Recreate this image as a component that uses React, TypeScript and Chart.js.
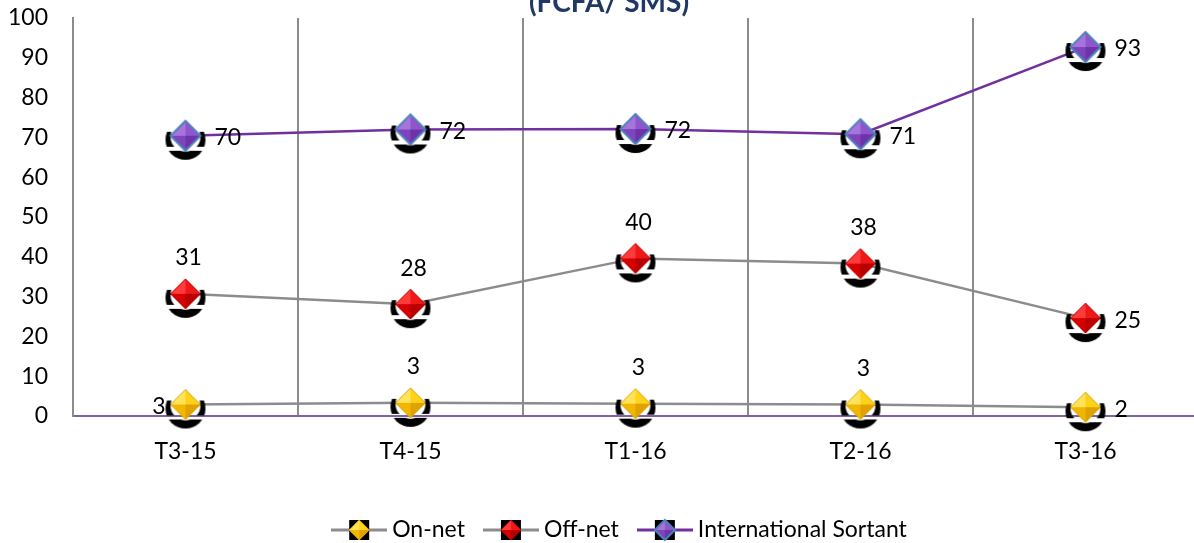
import React, { useEffect, useRef } from "react";
import { Chart, registerables } from "chart.js";

Chart.register(...registerables);

const categories = ["T3-15", "T4-15", "T1-16", "T2-16", "T3-16"];
const onNet = [2.9, 3.3, 3.1, 2.9, 2.2];
const offNet = [30.7, 28.1, 39.6, 38.3, 24.6];
const international = [70.4, 72.0, 72.1, 70.8, 92.7];
const seriesNames = ["On-net", "Off-net", "International Sortant"];
const onNetLabelPos = ["left", "above", "above", "above", "right"];
const offNetLabelPos = ["above", "above", "above", "above", "right"];
const intlLabelPos = ["right", "right", "right", "right", "right"];
const titleText = "(FCFA/ SMS)";

const FONT = "Lato, 'Open Sans', sans-serif";

type Shades = { tl: string; tr: string; bl: string; br: string; edge: string; edgeW: number };

const yellow: Shades = { tl: "#FFE45A", tr: "#FFD21A", bl: "#F2B600", br: "#E0A200", edge: "#D9A400", edgeW: 1 };
const red: Shades = { tl: "#FF3A3A", tr: "#EE1818", bl: "#D40000", br: "#B80000", edge: "#C00000", edgeW: 1 };
const purple: Shades = { tl: "#A774DC", tr: "#9055CC", bl: "#7E44BC", br: "#6C34A8", edge: "#4F81BD", edgeW: 2 };

function drawDiamond(ctx: CanvasRenderingContext2D, cx: number, cy: number, r: number, s: Shades) {
  const tri = (ax: number, ay: number, bx: number, by: number, col: string) => {
    ctx.beginPath();
    ctx.moveTo(cx, cy);
    ctx.lineTo(ax, ay);
    ctx.lineTo(bx, by);
    ctx.closePath();
    ctx.fillStyle = col;
    ctx.fill();
  };
  tri(cx, cy - r, cx - r, cy, s.tl);
  tri(cx, cy - r, cx + r, cy, s.tr);
  tri(cx - r, cy, cx, cy + r, s.bl);
  tri(cx + r, cy, cx, cy + r, s.br);
  ctx.beginPath();
  ctx.moveTo(cx, cy - r);
  ctx.lineTo(cx + r, cy);
  ctx.lineTo(cx, cy + r);
  ctx.lineTo(cx - r, cy);
  ctx.closePath();
  ctx.strokeStyle = s.edge;
  ctx.lineWidth = s.edgeW;
  ctx.stroke();
}

function makeMarker(s: Shades): HTMLCanvasElement {
  const c = document.createElement("canvas");
  c.width = 44;
  c.height = 52;
  const ctx = c.getContext("2d")!;
  const cx = 22;
  const cy = 26;
  ctx.fillStyle = "#000";
  ctx.beginPath();
  ctx.arc(cx, cy + 4, 20, 0, Math.PI * 2);
  ctx.fill();
  ctx.globalCompositeOperation = "destination-out";
  ctx.fillRect(0, 0, 44, cy - 4);
  ctx.beginPath();
  ctx.arc(cx, cy + 1, 15, 0, Math.PI * 2);
  ctx.fill();
  ctx.fillRect(0, cy + 11, 44, 4);
  ctx.globalCompositeOperation = "source-over";
  drawDiamond(ctx, cx, cy, 15, s);
  return c;
}

function makeLegendMarker(s: Shades, lineColor: string): HTMLCanvasElement {
  const c = document.createElement("canvas");
  c.width = 56;
  c.height = 24;
  const ctx = c.getContext("2d")!;
  ctx.strokeStyle = lineColor;
  ctx.lineWidth = 3;
  ctx.beginPath();
  ctx.moveTo(0, 12);
  ctx.lineTo(56, 12);
  ctx.stroke();
  ctx.fillStyle = "#000";
  ctx.fillRect(18, 2, 20, 20);
  drawDiamond(ctx, 28, 12, 10, s);
  return c;
}

export default function App() {
  const ref = useRef<HTMLCanvasElement>(null);

  useEffect(() => {
    if (!ref.current) return;
    const shades = [yellow, red, purple];
    const lineColors = ["#8C8C8C", "#8C8C8C", "#7030A0"];
    const markers = shades.map((s) => makeMarker(s));
    const legendMarkers = shades.map((s, i) => makeLegendMarker(s, lineColors[i]));
    const labelPositions = [onNetLabelPos, offNetLabelPos, intlLabelPos];

    const titlePlugin = {
      id: "titleText",
      afterDraw(chart: any) {
        const ctx = chart.ctx;
        ctx.save();
        ctx.font = `bold 28px ${FONT}`;
        ctx.fillStyle = "#1F3864";
        ctx.textAlign = "center";
        ctx.textBaseline = "alphabetic";
        ctx.fillText(titleText, 609, 12);
        ctx.restore();
      },
    };

    const dataLabelPlugin = {
      id: "dataLabels",
      afterDatasetsDraw(chart: any) {
        const ctx = chart.ctx;
        ctx.save();
        ctx.font = `23px ${FONT}`;
        ctx.fillStyle = "#000";
        ctx.textBaseline = "middle";
        chart.data.datasets.forEach((ds: any, i: number) => {
          const meta = chart.getDatasetMeta(i);
          meta.data.forEach((pt: any, j: number) => {
            const txt = String(Math.round(ds.data[j]));
            const pos = labelPositions[i][j];
            if (pos === "right") {
              ctx.textAlign = "left";
              ctx.fillText(txt, pt.x + 29, pt.y + 2);
            } else if (pos === "left") {
              ctx.textAlign = "right";
              ctx.fillText(txt, pt.x - 20, pt.y + 2);
            } else {
              ctx.textAlign = "center";
              ctx.fillText(txt, pt.x + 3, pt.y - 36);
            }
          });
        });
        ctx.restore();
      },
    };

    const legendPlugin = {
      id: "customLegend",
      afterDraw(chart: any) {
        const ctx = chart.ctx;
        ctx.save();
        ctx.font = `23px ${FONT}`;
        ctx.fillStyle = "#000";
        ctx.textBaseline = "middle";
        ctx.textAlign = "left";
        const names = chart.data.datasets.map((d: any) => d.label as string);
        const gap = 5;
        const itemGap = 18;
        const widths = names.map((n: string) => 56 + gap + ctx.measureText(n).width);
        const total = widths.reduce((a: number, b: number) => a + b, 0) + itemGap * (names.length - 1);
        let x = 619 - total / 2;
        const y = 530;
        names.forEach((n: string, i: number) => {
          ctx.drawImage(legendMarkers[i], x, y - 12);
          ctx.fillText(n, x + 56 + gap, y);
          x += widths[i] + itemGap;
        });
        ctx.restore();
      },
    };

    const values = [onNet, offNet, international];
    const chart = new Chart(ref.current, {
      type: "line",
      data: {
        labels: categories,
        datasets: values.map((v, i) => ({
          label: seriesNames[i],
          data: v,
          borderColor: lineColors[i],
          borderWidth: 2.5,
          tension: 0,
          pointStyle: markers[i] as any,
          pointRadius: 15,
          pointHoverRadius: 15,
          fill: false,
          clip: false as any,
        })),
      },
      options: {
        responsive: false,
        animation: false,
        devicePixelRatio: 1,
        layout: { autoPadding: false, padding: { top: 18, right: 2, left: 0, bottom: 0 } },
        plugins: {
          legend: { display: false },
          tooltip: { enabled: false },
          title: { display: false },
        },
        scales: {
          x: {
            offset: true,
            grid: { display: true, offset: true, color: "#8C8C8C", lineWidth: 2, drawTicks: false },
            border: { display: true, color: "#7F64A1", width: 2 },
            ticks: { color: "#000", font: { family: FONT, size: 23 }, padding: 22, maxRotation: 0 },
            afterFit: (s: any) => {
              s.height = 127;
              s.paddingLeft = 0;
              s.paddingRight = 0;
            },
          },
          y: {
            min: 0,
            max: 100,
            ticks: { stepSize: 10, color: "#000", font: { family: FONT, size: 23 }, padding: 25 },
            grid: { display: false, drawTicks: false },
            border: { display: true, color: "#8C8C8C", width: 2 },
            afterFit: (s: any) => {
              s.width = 73;
              s.paddingTop = 0;
              s.paddingBottom = 0;
            },
          },
        },
      },
      plugins: [dataLabelPlugin, titlePlugin, legendPlugin],
    });
    return () => chart.destroy();
  }, []);

  return (
    <div
      style={{
        position: "fixed",
        left: 0,
        top: 0,
        width: 1194,
        height: 543,
        overflow: "hidden",
        background: "#fff",
      }}
    >
      <canvas ref={ref} width={1200} height={543} style={{ width: 1200, height: 543, display: "block" }} />
    </div>
  );
}
